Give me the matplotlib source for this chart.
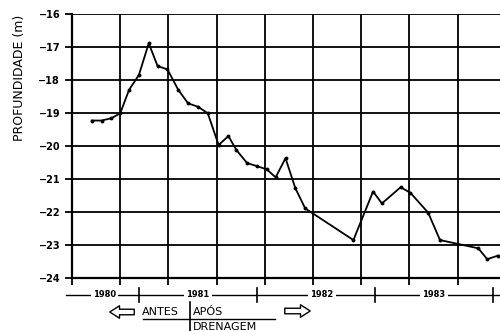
import numpy as np
import matplotlib
matplotlib.use('Agg')
import matplotlib.pyplot as plt

# months counted from Jan 1980 (12 = Jan 1981)
months = [7.2, 8.2, 9.2, 10.1, 11.0, 12.0, 13.0, 13.9, 14.9, 16.0, 17.0, 18.0,
          19.0, 20.1, 21.1, 21.9, 23.0, 24.0, 25.0, 25.9, 26.9, 27.9, 28.9,
          33.8, 35.8, 36.7, 38.6, 39.6, 41.4, 42.6, 46.5, 47.4, 48.5]
depth = [-19.23, -19.23, -19.16, -19.01, -18.30, -17.85, -16.89, -17.58, -17.68,
         -18.30, -18.71, -18.81, -19.01, -19.97, -19.70, -20.12, -20.52, -20.61,
         -20.71, -20.95, -20.37, -21.28, -21.89, -22.85, -21.38, -21.74, -21.25,
         -21.42, -22.02, -22.85, -23.10, -23.43, -23.32]

years = ['1980', '1981', '1982', '1983']
year_label_pos = [8.5, 18.0, 30.6, 42.0]
year_bounds = [12, 24, 36, 48]
yticks = [-16, -17, -18, -19, -20, -21, -22, -23, -24]

fig = plt.figure(figsize=(5, 3.31), dpi=100)
ax = fig.add_axes([0.144, 0.160, 0.856, 0.798])

x0, x1 = 5.2, 48.7
vgrid = np.arange(x0, x1, 4.9)

for g in vgrid[1:]:
    ax.axvline(g, color='black', lw=1.3, zorder=1)
for y in yticks:
    ax.axhline(y, color='black', lw=1.3, zorder=1)

ax.plot(months, depth, color='black', lw=1.3, marker='o', ms=1.8, zorder=3)

ax.set_xlim(x0, x1)
ax.set_ylim(-24, -16)
ax.set_yticks(yticks)
ax.set_yticklabels(['\u2212%d' % abs(v) for v in yticks], fontsize=7, fontweight='bold')
ax.set_xticks(vgrid)
ax.set_xticklabels([])
ax.tick_params(axis='both', length=5, width=1.3, color='black')
for s in ['top', 'right']:
    ax.spines[s].set_visible(False)
for s in ['left', 'bottom']:
    ax.spines[s].set_linewidth(1.6)

# year row below the axes
tr = ax.get_xaxis_transform()
yr = -0.064
ax.plot([x0 - 0.6, x1 + 1], [yr, yr], color='black', lw=1.0, transform=tr, clip_on=False)
for b in year_bounds:
    ax.plot([b, b], [yr + 0.028, yr - 0.028], color='black', lw=1.2, transform=tr, clip_on=False)
for lab, p in zip(years, year_label_pos):
    ax.text(p, yr, lab, transform=tr, ha='center', va='center', fontsize=6,
            fontweight='bold', bbox=dict(fc='white', ec='none', pad=1.5))

fig.text(20 / 500, 1 - 78 / 331, 'PROFUNDIDADE (m)', rotation=90, ha='center',
         va='center', fontsize=9)

# antes / após drenagem
H = 331
fig.text(142 / 500, 1 - 312 / H, 'ANTES', ha='left', va='center', fontsize=8)
fig.text(193 / 500, 1 - 312 / H, 'APÓS', ha='left', va='center', fontsize=8)
fig.text(193 / 500, 1 - 327 / H, 'DRENAGEM', ha='left', va='center', fontsize=8)
fig.add_artist(plt.Line2D([143 / 500, 275 / 500], [1 - 319 / H, 1 - 319 / H],
                          color='black', lw=1.0))
fig.add_artist(plt.Line2D([190 / 500, 190 / 500], [1 - 302 / H, 0.0],
                          color='black', lw=1.2))
arrow = dict(arrowstyle='simple,head_width=0.9,head_length=0.7,tail_width=0.4',
             fc='white', ec='black', lw=1.0)
ax.annotate('', xy=(107, H - 312), xytext=(137, H - 312), xycoords='figure pixels',
            textcoords='figure pixels', arrowprops=arrow)
ax.annotate('', xy=(313, H - 311), xytext=(282, H - 311), xycoords='figure pixels',
            textcoords='figure pixels', arrowprops=arrow)

fig.savefig('out.png', dpi=100)
